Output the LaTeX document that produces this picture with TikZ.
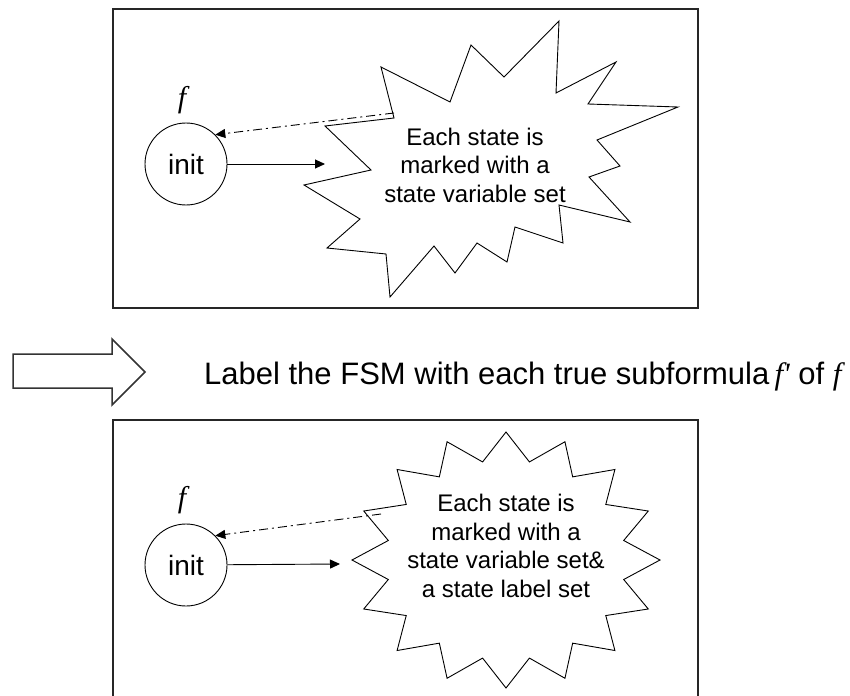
\documentclass[tikz,border=0pt]{standalone}
\usepackage{fontspec}
\setmainfont{Liberation Sans}
\newfontfamily\timesf{Liberation Serif}
\usetikzlibrary{arrows.meta}

\tikzset{
	panel/.style={draw=black!85, line width=1.6pt},
	state/.style={draw, circle, line width=0.9pt, minimum size=82pt, inner sep=0pt, font=\fontsize{28}{30}\selectfont},
	formula/.style={font=\fontsize{30}{30}\timesf\itshape},
	burst/.style={draw, line width=0.9pt, line join=miter},
	bursttext/.style={align=center, font=\fontsize{24}{28.5}\selectfont},
	trans/.style={line width=0.9pt, -{Triangle[length=10pt,width=9pt]}},
	backref/.style={line width=0.9pt, dash pattern=on 9pt off 4pt on 2pt off 4pt, -{Triangle[length=10pt,width=9pt]}},
	hollow/.style={draw=black!80, line width=1.5pt, line join=miter},
	caption/.style={font=\fontsize{31}{31}\selectfont, inner sep=0pt}
}

\begin{document}
\begin{tikzpicture}[x=1pt, y=-1pt]
	\useasboundingbox (0,0) rectangle (850,695);
	% Top panel
	\draw[panel] (113,9) rectangle (698,308);
	\node[state] (init1) at (186,164) {init};
	\node[formula] (f1) at (182,100) {f};
	\draw[burst] (381,67) -- (450,102) -- (471,45) -- (504,77) -- (559,21) -- (556,93) -- (616,62) -- (588,104)
		-- (678,107) -- (597,140) -- (620,166) -- (589,177) -- (630,222) -- (559,205) -- (563,243) -- (515,227)
		-- (507,262) -- (477,243) -- (455,273) -- (434,246) -- (390,297) -- (386,254) -- (327,248) -- (360,219)
		-- (304,185) -- (371,170) -- (325,126) -- (394,118) -- cycle;
	\node[bursttext] (info1) at (475,165) {Each state is\\marked with a\\state variable set};
	\coordinate (hit1) at (325,164);
	\coordinate (back1) at (394,113);
	\draw[trans] (init1) -- (hit1);
	\draw[backref] (back1) -- (init1.45);
	% Step arrow and caption
	\draw[hollow] (13,354) -- (112,354) -- (112,339) -- (145,372) -- (112,405) -- (112,388) -- (13,388) -- cycle;
	\node[caption, anchor=base west] (step) at (204,384) {Label the FSM with each true subformula\,{\timesf\itshape f'} of {\timesf\itshape f}};
	% Bottom panel
	\draw[panel] (113,697) -- (113,420) -- (698,420) -- (698,697);
	\node[state] (init2) at (186,565) {init};
	\node[formula] (f2) at (182,500) {f};
	\draw[burst, shift={(506,560)}] (90:154 and 128)
		\foreach \k in {0,...,15} {-- ({101.25+\k*22.5}:120 and 100) -- ({112.5+\k*22.5}:154 and 128)} -- cycle;
	\node[bursttext] (info2) at (506,546) {Each state is\\marked with a\\state variable set\&\\a state label set};
	\coordinate (hit2) at (340,564);
	\coordinate (back2) at (381,514);
	\draw[trans] (init2) -- (hit2);
	\draw[backref] (back2) -- (init2.45);
\end{tikzpicture}
\end{document}
